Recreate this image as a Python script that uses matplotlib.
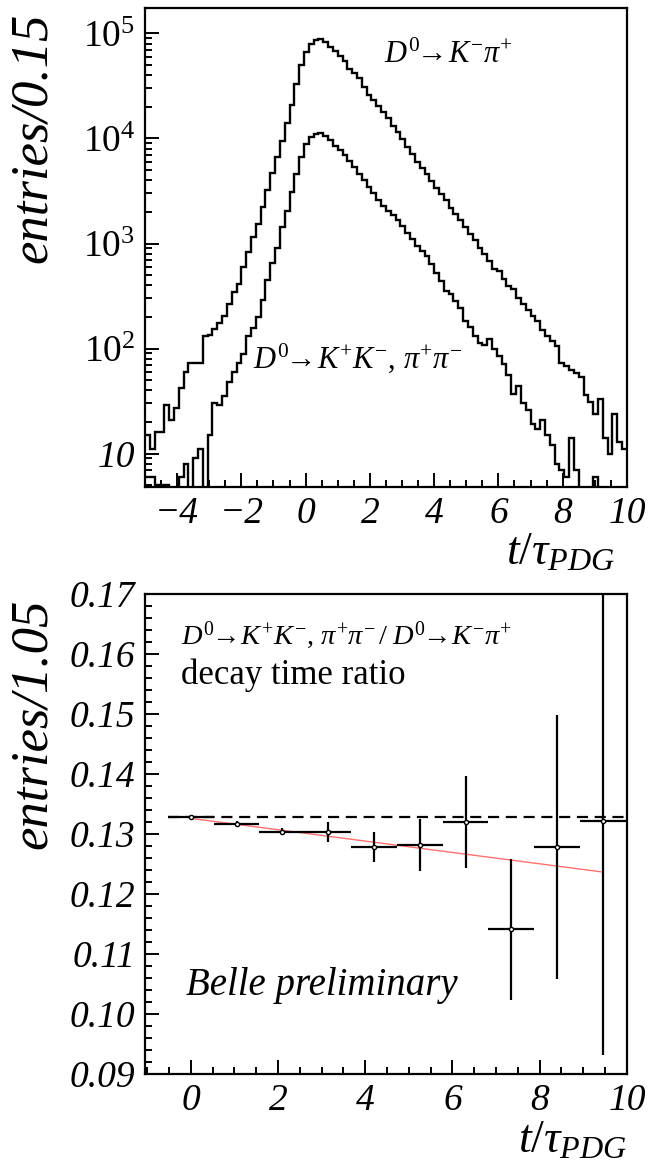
import numpy as np
import matplotlib.pyplot as plt
from matplotlib.ticker import MultipleLocator, LogLocator, NullFormatter, FixedLocator

plt.rcParams['font.family'] = ['Liberation Serif', 'DejaVu Serif']
plt.rcParams['mathtext.fontset'] = 'custom'
plt.rcParams['mathtext.rm'] = 'Liberation Serif'
plt.rcParams['mathtext.it'] = 'Liberation Serif:italic'
plt.rcParams['mathtext.default'] = 'it'

# decay time histograms, 100 bins of 0.15 from -5 to 10
t_lo, t_hi, n_bins = -5.0, 10.0, 100
kpi_counts = [
    15, 11, 16, 16, 29, 21, 27, 42, 60, 72,
    72, 72, 132, 135, 155, 175, 205, 267, 345, 415,
    595, 830, 1150, 1550, 2250, 3200, 4700, 6600, 9500, 14000,
    21000, 33000, 50000, 66000, 79000, 87000, 89000, 83000, 74000, 68000,
    61000, 55000, 46000, 42000, 38000, 31000, 26000, 23000, 20400, 17800,
    15500, 13200, 11500, 9800, 8300, 7100, 6000, 5250, 4570, 3980,
    3390, 2950, 2570, 2190, 1900, 1660, 1445, 1230, 1070, 912,
    794, 676, 575, 550, 457, 398, 372, 302, 263, 234,
    204, 182, 151, 132, 117, 105, 72, 68, 63, 58,
    54, 36, 31, 24, 33, 14, 10, 24, 13, 11,
]
hh_counts = [
    6, 6, 5, 5, 5, 3, 3, 6, 8, 3,
    9, 11, 2, 15, 30, 29, 35, 48, 60, 72,
    89, 132, 158, 199, 290, 445, 650, 915, 1450, 2040,
    3100, 4600, 6600, 8900, 10300, 11100, 11200, 10500, 9600, 8550,
    7800, 6900, 6050, 5350, 4600, 4000, 3480, 3030, 2570, 2300,
    2040, 1860, 1660, 1480, 1260, 1100, 955, 850, 760, 645,
    525, 436, 355, 331, 282, 245, 182, 162, 132, 112,
    107, 123, 100, 85, 71, 56, 37, 44, 30, 26,
    19, 17, 21, 15, 12, 8, 7, 6, 14, 7,
    4, 3, 3, 6, 3, 2, 3, 2, 2, 2,
]

# ratio of the two, bins of 1.05
ratio_t = [0.0, 1.05, 2.1, 3.15, 4.2, 5.25, 6.3, 7.35, 8.4, 9.45]
ratio_val = [0.1328, 0.1316, 0.1304, 0.1303, 0.1278, 0.1282, 0.1320, 0.1141, 0.1279, 0.1322]
ratio_err = [0.0004, 0.0005, 0.0006, 0.0017, 0.0025, 0.0043, 0.0077, 0.0117, 0.0220, 0.0390]
ratio_xerr = 0.525
const_level = 0.1328
fit_t = [0.0, 9.4]
fit_val = [0.1326, 0.1237]

serif_it = dict(family='Liberation Serif', style='italic')

fig = plt.figure(figsize=(6.62, 11.69), dpi=100)
ax1 = fig.add_axes([0.219, 0.5834, 0.728, 0.4098])
ax2 = fig.add_axes([0.219, 0.0813, 0.728, 0.4106])

edges = np.linspace(t_lo, t_hi, n_bins + 1)
ax1.stairs(kpi_counts, edges, baseline=None, color='black', lw=1.7)
ax1.stairs(hh_counts, edges, baseline=None, color='black', lw=1.7)
ax1.set_yscale('log')
ax1.set_xlim(t_lo, t_hi)
ax1.set_ylim(4.8, 1.75e5)
ax1.yaxis.set_major_locator(FixedLocator([10, 100, 1e3, 1e4, 1e5]))
ax1.set_yticklabels(['10', r'$10^{2}$', r'$10^{3}$', r'$10^{4}$', r'$10^{5}$'])
ax1.yaxis.set_minor_locator(LogLocator(base=10, subs=np.arange(2, 10)))
ax1.yaxis.set_minor_formatter(NullFormatter())
ax1.xaxis.set_major_locator(MultipleLocator(2))
ax1.xaxis.set_minor_locator(MultipleLocator(0.5))

ax1.text(0.495, 0.9, r'$D^{0}\!\!\rightarrow\! K^{-}\pi^{+}$', transform=ax1.transAxes,
         fontsize=22, ha='left', va='center')
ax1.text(0.225, 0.268, r'$D^{0}\!\!\rightarrow\! K^{+}K^{-},\, \pi^{+}\pi^{-}$', transform=ax1.transAxes,
         fontsize=22, ha='left', va='center')
ax1.text(-0.232, 0.99, 'entries/0.15', transform=ax1.transAxes, rotation=90,
         fontsize=38, ha='center', va='top', **serif_it)
ax1.text(0.975, -0.095, r'$t/\tau_{PDG}$', transform=ax1.transAxes,
         fontsize=33, ha='right', va='top')

ax2.errorbar(ratio_t, ratio_val, yerr=ratio_err, xerr=ratio_xerr, fmt='o', color='black',
             mfc='white', mec='black', ms=3, elinewidth=1.6, capsize=0, zorder=3)
ax2.plot([-0.525, 10.0], [const_level, const_level], color='black', lw=1.6, ls=(0, (5, 3)))
ax2.plot(fit_t, fit_val, color='#ff7070', lw=1.0, zorder=2)
ax2.set_xlim(-1.05, 10)
ax2.set_ylim(0.09, 0.17)
ax2.yaxis.set_major_locator(MultipleLocator(0.01))
ax2.yaxis.set_minor_locator(MultipleLocator(0.002))
ax2.xaxis.set_major_locator(MultipleLocator(2))
ax2.xaxis.set_minor_locator(MultipleLocator(0.5))
ax2.yaxis.set_major_formatter(plt.FuncFormatter(lambda v, p: '%.2f' % v))

ax2.text(0.075, 0.915, r'$D^{0}\!\!\rightarrow\! K^{+}K^{-},\, \pi^{+}\pi^{-}\,/\; D^{0}\!\!\rightarrow\! K^{-}\pi^{+}$',
         transform=ax2.transAxes, fontsize=20.5, ha='left', va='center')
ax2.text(0.075, 0.83, 'decay time ratio', transform=ax2.transAxes, fontsize=25,
         ha='left', va='center', family='Liberation Serif')
ax2.text(0.085, 0.185, 'Belle preliminary', transform=ax2.transAxes, fontsize=28,
         ha='left', va='center', **serif_it)
ax2.text(-0.232, 0.99, 'entries/1.05', transform=ax2.transAxes, rotation=90,
         fontsize=38, ha='center', va='top', **serif_it)
ax2.text(1.0, -0.096, r'$t/\tau_{PDG}$', transform=ax2.transAxes,
         fontsize=33, ha='right', va='top')

for ax in (ax1, ax2):
    for sp in ax.spines.values():
        sp.set_linewidth(1.6)
    ax.tick_params(which='both', direction='in', top=False, right=False, width=1.4)
    ax.tick_params(which='major', length=10, labelsize=27, pad=7)
    ax.tick_params(which='minor', length=5)
    for lab in ax.get_xticklabels() + ax.get_yticklabels():
        lab.set_fontstyle('italic')

fig.savefig('out.png', dpi=100)
